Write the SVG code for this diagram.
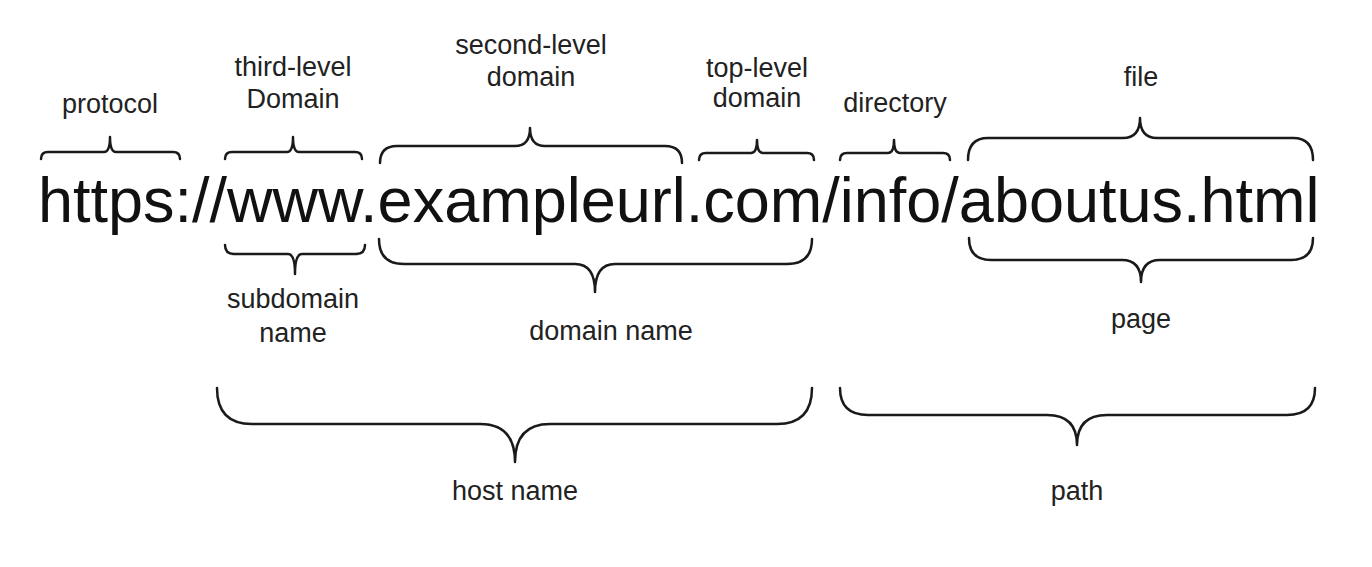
<svg xmlns="http://www.w3.org/2000/svg" width="1372" height="567" viewBox="0 0 1372 567">
<style>
.lbl{font-family:"Liberation Sans",Arial,sans-serif;font-size:27px;fill:#222;text-anchor:middle}
.url{font-family:"Liberation Sans",Arial,sans-serif;font-size:63px;fill:#111}
.br{fill:none;stroke:#1a1a1a;stroke-width:2.5;stroke-linecap:round;stroke-linejoin:round}
</style>
<rect width="1372" height="567" fill="#fff"/>
<g id="url"><text class="url" x="38" y="222">https://www.exampleurl.com/info/aboutus.html</text></g>
<g id="connectors">
<path class="br" d="M41,159 Q41,152 48,152 L104,152 Q110,152 110,137 Q110,152 116,152 L173,152 Q180,152 180,159"/>
<path class="br" d="M225,159 Q225,152 232,152 L287,152 Q293,152 293,137 Q293,152 299,152 L355,152 Q362,152 362,159"/>
<path class="br" d="M380,163 Q380,146 397,146 L515,146 Q530,146 530,128 Q530,146 545,146 L665,146 Q682,146 682,163"/>
<path class="br" d="M699,160 Q699,153 706,153 L751,153 Q757,153 757,140 Q757,153 763,153 L807,153 Q814,153 814,160"/>
<path class="br" d="M840,160 Q840,153 847,153 L888,153 Q894,153 894,140 Q894,153 900,153 L943,153 Q950,153 950,160"/>
<path class="br" d="M968,160 Q968,138 988,138 L1123,138 Q1140,138 1140,118 Q1140,138 1157,138 L1293,138 Q1313,138 1313,160"/>
<path class="br" d="M225,245 Q225,254 234,254 L288,254 Q295,254 295,274 Q295,254 302,254 L356,254 Q365,254 365,245"/>
<path class="br" d="M379,239 Q379,264 404,264 L575,264 Q595,264 595,292 Q595,264 615,264 L787,264 Q812,264 812,239"/>
<path class="br" d="M969,238 Q969,260 991,260 L1122,260 Q1141,260 1141,282 Q1141,260 1160,260 L1291,260 Q1313,260 1313,238"/>
<path class="br" d="M217,388 Q217,424 252,424 L480,424 Q515,424 515,462 Q515,424 550,424 L777,424 Q812,424 812,388"/>
<path class="br" d="M840,388 Q840,415 868,415 L1047,415 Q1077,415 1077,445 Q1077,415 1107,415 L1287,415 Q1315,415 1315,388"/>
</g>
<g id="protocol"><text class="lbl" x="110" y="113">protocol</text></g>
<g id="third-level"><text class="lbl" x="293" y="76">third-level</text><text class="lbl" x="293" y="108">Domain</text></g>
<g id="second-level"><text class="lbl" x="531" y="54">second-level</text><text class="lbl" x="531" y="86">domain</text></g>
<g id="top-level"><text class="lbl" x="757" y="77">top-level</text><text class="lbl" x="757" y="107">domain</text></g>
<g id="directory"><text class="lbl" x="895" y="112">directory</text></g>
<g id="file"><text class="lbl" x="1141" y="86">file</text></g>
<g id="subdomain"><text class="lbl" x="293" y="308">subdomain</text><text class="lbl" x="293" y="342">name</text></g>
<g id="domain-name"><text class="lbl" x="611" y="340">domain name</text></g>
<g id="page"><text class="lbl" x="1141" y="328">page</text></g>
<g id="host-name"><text class="lbl" x="515" y="500">host name</text></g>
<g id="path"><text class="lbl" x="1077" y="500">path</text></g>
</svg>
